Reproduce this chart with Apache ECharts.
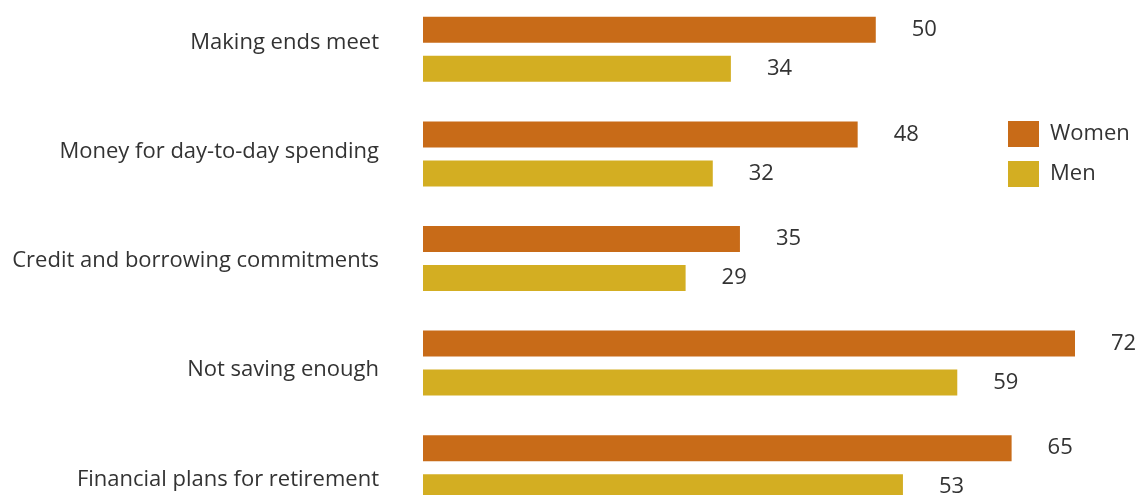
<!DOCTYPE html>
<html>
<head>
<meta charset="utf-8">
<script src="https://cdn.jsdelivr.net/npm/echarts@6/dist/echarts.min.js"></script>
<style>
  html, body { margin: 0; padding: 0; background: #fff; }
  #chart { width: 1137px; height: 495px; }
</style>
</head>
<body>
<div id="chart"></div>
<script>
var categories = [
  'Making ends meet',
  'Money for day-to-day spending',
  'Credit and borrowing commitments',
  'Not saving enough',
  'Financial plans for retirement'
];
var women = [50, 48, 35, 72, 65];
var men = [34, 32, 29, 59, 53];

var textColor = '#333333';
var fontFamily = '"Open Sans", "Noto Sans", sans-serif';

var chart = echarts.init(document.getElementById('chart'));

chart.setOption({
  animation: false,
  backgroundColor: '#ffffff',
  color: ['#c86b18', '#d3ae22'],
  textStyle: { fontFamily: fontFamily },
  legend: {
    orient: 'vertical',
    left: 1008,
    top: 121,
    padding: 0,
    icon: 'rect',
    itemWidth: 31,
    itemHeight: 26,
    itemGap: 14,
    textStyle: { fontSize: 22, color: textColor, padding: [0, 0, 0, 6] },
    data: ['Women', 'Men']
  },
  grid: [
    // bars
    { left: 423, right: 62, top: -3, height: 523, outerBoundsMode: 'none' },
    // category labels (spaced a little wider than the bars, as in the original)
    { left: 423, right: 62, top: -12, height: 546, outerBoundsMode: 'none' }
  ],
  xAxis: [
    { gridIndex: 0, type: 'value', min: 0, max: 72, show: false },
    { gridIndex: 1, type: 'value', min: 0, max: 72, show: false }
  ],
  yAxis: [
    {
      gridIndex: 0,
      type: 'category',
      inverse: true,
      data: categories,
      axisLine: { show: false },
      axisTick: { show: false },
      axisLabel: { show: false }
    },
    {
      gridIndex: 1,
      type: 'category',
      inverse: true,
      data: categories,
      axisLine: { show: false },
      axisTick: { show: false },
      axisLabel: {
        fontSize: 22,
        color: textColor,
        margin: 44
      }
    }
  ],
  series: [
    {
      name: 'Women',
      type: 'bar',
      xAxisIndex: 0,
      yAxisIndex: 0,
      data: women,
      barWidth: 26,
      barGap: '50%',
      label: {
        show: true,
        position: 'right',
        distance: 36,
        fontSize: 22,
        color: textColor
      }
    },
    {
      name: 'Men',
      type: 'bar',
      xAxisIndex: 0,
      yAxisIndex: 0,
      data: men,
      barWidth: 26,
      barGap: '50%',
      label: {
        show: true,
        position: 'right',
        distance: 36,
        fontSize: 22,
        color: textColor
      }
    }
  ]
});
</script>
</body>
</html>
